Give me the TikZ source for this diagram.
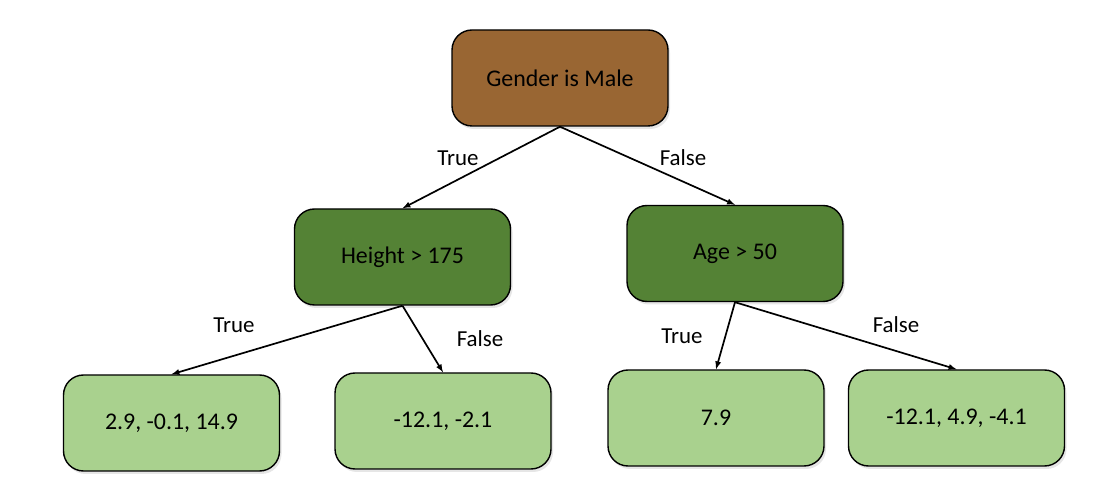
\documentclass[tikz,border=0pt]{standalone}
\usepackage{fontspec}
\setmainfont{Carlito}
\usetikzlibrary{shadows}
\definecolor{rootbrown}{RGB}{153,102,51}
\definecolor{splitgreen}{RGB}{84,130,53}
\definecolor{leafgreen}{RGB}{169,209,142}
\tikzset{
  treebox/.style={draw=black,line width=1.4bp,rounded corners=20bp,minimum width=216bp,minimum height=96bp,inner sep=0pt,font=\fontsize{24}{28}\selectfont,drop shadow={opacity=0.2,shadow xshift=2bp,shadow yshift=-3bp}},
  edgelabel/.style={font=\fontsize{23}{27}\selectfont,inner sep=0pt},
}
\begin{document}
\begin{tikzpicture}[>=latex,line join=bevel,]
\useasboundingbox (0bp,0bp) rectangle (1116bp,483bp);
%%
\node (node_0) at (560.0bp,405.0bp) [treebox,fill=rootbrown] {Gender is Male};
  \node (node_1) at (402.5bp,226.0bp) [treebox,fill=splitgreen] {Height > 175};
  \node (node_2) at (735.0bp,229.5bp) [treebox,fill=splitgreen] {Age > 50};
  \node (node_3) at (171.5bp,60.0bp) [treebox,fill=leafgreen] {2.9, -0.1, 14.9};
  \node (node_4) at (443.0bp,62.0bp) [treebox,fill=leafgreen] {-12.1, -2.1};
  \node (node_5) at (716.0bp,65.0bp) [treebox,fill=leafgreen] {7.9};
  \node (node_6) at (956.5bp,65.0bp) [treebox,fill=leafgreen] {-12.1, 4.9, -4.1};
  \draw [black,line width=1.7bp,->] (node_0.south) -- (node_1.north);
  \draw [black,line width=1.7bp,->] (node_0.south) -- (node_2.north);
  \draw [black,line width=1.7bp,->] (node_1.south) -- (node_3.north);
  \draw [black,line width=1.7bp,->] (node_1.south) -- (node_4.north);
  \draw [black,line width=1.7bp,->] (node_2.south) -- (node_5.north);
  \draw [black,line width=1.7bp,->] (node_2.south) -- (node_6.north);
  \node (label_0) at (458.0bp,325.0bp) [edgelabel] {True};
  \node (label_1) at (683.0bp,325.0bp) [edgelabel] {False};
  \node (label_2) at (234.0bp,158.0bp) [edgelabel] {True};
  \node (label_3) at (480.0bp,144.0bp) [edgelabel] {False};
  \node (label_4) at (682.0bp,147.0bp) [edgelabel] {True};
  \node (label_5) at (896.0bp,158.0bp) [edgelabel] {False};
%
\end{tikzpicture}
\end{document}
